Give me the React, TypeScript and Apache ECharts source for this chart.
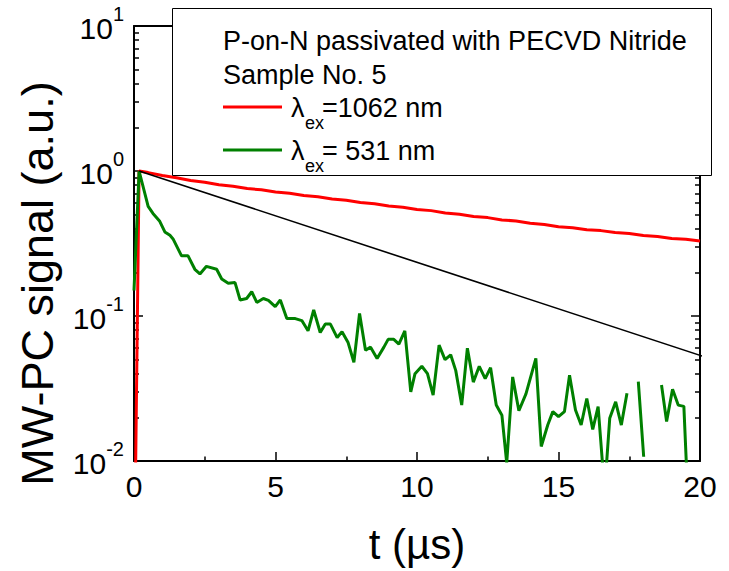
import React, { useEffect, useRef } from 'react';
import * as echarts from 'echarts';

const FONT = '"Liberation Sans", Arial, Helvetica, sans-serif';

// λex = 1062 nm trace (time in µs, normalized MW-PC signal)
const redTimes = [0, 0.18, 0.5, 1.0, 1.5, 2.0, 2.5, 3.0, 3.5, 4.0, 4.5, 5.0, 5.5, 6.0, 6.5, 7.0, 7.5, 8.0, 8.5, 9.0, 9.5, 10.0, 10.5, 11.0, 11.5, 12.0, 12.5, 13.0, 13.5, 14.0, 14.5, 15.0, 15.5, 16.0, 16.5, 17.0, 17.5, 18.0, 18.5, 19.0, 19.5, 20.0];
const redValues = [0.001, 1.0, 0.975, 0.93, 0.899, 0.86, 0.836, 0.805, 0.786, 0.757, 0.742, 0.717, 0.702, 0.678, 0.664, 0.641, 0.629, 0.607, 0.595, 0.574, 0.563, 0.543, 0.533, 0.514, 0.504, 0.486, 0.477, 0.46, 0.452, 0.436, 0.428, 0.412, 0.406, 0.393, 0.388, 0.376, 0.371, 0.359, 0.354, 0.342, 0.338, 0.329];

// λex = 531 nm trace (null = no valid sample)
const greenTimes = [0, 0.18, 0.5, 0.67, 0.91, 1.09, 1.27, 1.38, 1.68, 1.91, 2.15, 2.33, 2.56, 2.92, 3.1, 3.33, 3.57, 3.75, 3.98, 4.16, 4.34, 4.57, 4.75, 4.99, 5.17, 5.4, 5.7, 5.93, 6.15, 6.35, 6.58, 6.76, 6.94, 7.18, 7.35, 7.56, 7.77, 7.97, 8.18, 8.36, 8.59, 8.83, 8.98, 9.18, 9.36, 9.57, 9.78, 9.93, 10.17, 10.37, 10.57, 10.78, 10.99, 11.19, 11.37, 11.58, 11.78, 11.99, 12.2, 12.41, 12.6, 12.8, 13.0, 13.17, 13.38, 13.6, 13.85, 14.2, 14.39, 14.62, 14.8, 15.0, 15.21, 15.39, 15.6, 15.8, 16.0, 16.21, 16.4, 16.63, 16.81, 17.02, 17.22, 17.42, 17.62, 17.82, 18.01, 18.2, 18.4, 18.64, 18.82, 19.03, 19.23, 19.43, 19.63, 19.82];
const greenValues = [0.15, 1.0, 0.57, 0.51, 0.45, 0.38, 0.36, 0.34, 0.26, 0.26, 0.21, 0.195, 0.22, 0.21, 0.18, 0.168, 0.17, 0.129, 0.132, 0.147, 0.124, 0.132, 0.128, 0.116, 0.129, 0.096, 0.096, 0.093, 0.079, 0.11, 0.077, 0.088, 0.088, 0.071, 0.078, 0.066, 0.048, 0.104, 0.058, 0.061, 0.051, 0.061, 0.069, 0.069, 0.064, 0.079, 0.03, 0.04, 0.045, 0.04, 0.0285, 0.063, 0.05, 0.054, 0.042, 0.0243, 0.06, 0.035, 0.045, 0.037, 0.044, 0.0243, 0.0207, 0.0097, 0.038, 0.0222, 0.029, 0.051, 0.0126, 0.0177, 0.0219, 0.0202, 0.0219, 0.039, 0.0225, 0.0177, 0.027, 0.0165, 0.0237, 0.0062, 0.0197, 0.0256, 0.0177, 0.0293, null, 0.0353, 0.0107, null, null, 0.0334, 0.0187, 0.0312, 0.0243, 0.0238, 0.003, null];

// single-exponential guide line
const fitTimes = [0.18, 20.6];
const fitValues = [1.0, 0.049];

const xMin = 0;
const xMax = 20;
const xInterval = 5;
const yMajorTicks = [0.01, 0.1, 1, 10];
const yMinorTicks = [0.02, 0.03, 0.04, 0.05, 0.06, 0.07, 0.08, 0.09, 0.2, 0.3, 0.4, 0.5, 0.6, 0.7, 0.8, 0.9, 2, 3, 4, 5, 6, 7, 8, 9];

const legendTitle = ['P-on-N passivated with PECVD Nitride', 'Sample No. 5'];
const seriesNames = ['λex=1062 nm', 'λex= 531 nm'];
const legendSuffix = ['=1062 nm', '= 531 nm'];
const seriesColors = ['#ff0000', '#008000'];

const xTitle = 't (µs)';
const yTitle = 'MW-PC signal (a.u.)';

function pairs(xs: number[], ys: (number | null)[]) {
  return xs.map((x, i) => [x, ys[i]]);
}

function logAxis(position: 'left' | 'right', ticks: number[], tickLen: number, showLine: boolean, showLabel: boolean) {
  return {
    type: 'log',
    logBase: 10,
    min: 0.01,
    max: 10,
    position,
    axisLine: { show: showLine, onZero: false, lineStyle: { color: '#000', width: 2 } },
    axisTick: { show: true, inside: true, length: tickLen, customValues: ticks, lineStyle: { color: '#000', width: 1.5 } },
    axisLabel: showLabel
      ? {
          show: true,
          customValues: ticks,
          margin: 10,
          formatter: (v: number) => `{b|10}{s|${Math.round(Math.log10(v))}}`,
          rich: {
            b: { fontSize: 30, fontFamily: FONT, color: '#000', lineHeight: 30, padding: [5, 0, 0, 0] },
            s: { fontSize: 20, fontFamily: FONT, color: '#000', lineHeight: 20, padding: [0, 0, 24, 0] },
          },
        }
      : { show: false },
    splitLine: { show: false },
  };
}

export default function App() {
  const ref = useRef<HTMLDivElement>(null);

  useEffect(() => {
    if (!ref.current) return;
    const chart = echarts.init(ref.current, undefined, { renderer: 'svg' });

    const legendLineY = [107, 150];
    const legendGraphics: any[] = [
      {
        type: 'rect',
        z: 100,
        shape: { x: 172.5, y: 8.5, width: 539, height: 167 },
        style: { fill: '#fff', stroke: '#000', lineWidth: 1 },
      },
      {
        type: 'text', z: 101, x: 223, y: 41,
        style: { text: legendTitle[0], fill: '#000', fontSize: 27, fontFamily: FONT, verticalAlign: 'middle', align: 'left' },
      },
      {
        type: 'text', z: 101, x: 223, y: 75,
        style: { text: legendTitle[1], fill: '#000', fontSize: 27, fontFamily: FONT, verticalAlign: 'middle', align: 'left' },
      },
    ];
    legendLineY.forEach((ly, i) => {
      legendGraphics.push(
        { type: 'line', z: 101, shape: { x1: 223, y1: ly, x2: 282, y2: ly }, style: { stroke: seriesColors[i], lineWidth: 3 } },
        { type: 'text', z: 101, x: 291, y: ly + 1, style: { text: 'λ', fill: '#000', fontSize: 27, fontFamily: FONT, verticalAlign: 'middle' } },
        { type: 'text', z: 101, x: 305, y: ly + 16, style: { text: 'ex', fill: '#000', fontSize: 18, fontFamily: FONT, verticalAlign: 'middle' } },
        { type: 'text', z: 101, x: 322, y: ly + 1, style: { text: legendSuffix[i], fill: '#000', fontSize: 27, fontFamily: FONT, verticalAlign: 'middle' } },
      );
    });

    chart.setOption({
      animation: false,
      backgroundColor: '#fff',
      textStyle: { fontFamily: FONT },
      grid: { left: 134, top: 26, width: 566, height: 435, containLabel: false },
      xAxis: [
        {
          type: 'value',
          min: xMin,
          max: xMax,
          interval: xInterval,
          position: 'bottom',
          name: xTitle,
          nameLocation: 'middle',
          nameGap: 62,
          nameTextStyle: { fontSize: 42, fontFamily: FONT, color: '#000' },
          axisLine: { show: true, onZero: false, lineStyle: { color: '#000', width: 2 } },
          axisTick: { show: true, inside: true, length: 9, lineStyle: { color: '#000', width: 1.5 } },
          minorTick: { show: true, splitNumber: 2, length: 4.5, lineStyle: { color: '#000', width: 1.5 } },
          axisLabel: { fontSize: 30, fontFamily: FONT, color: '#000', margin: 10 },
          splitLine: { show: false },
        },
        {
          type: 'value',
          min: xMin,
          max: xMax,
          interval: xInterval,
          position: 'top',
          axisLine: { show: true, onZero: false, lineStyle: { color: '#000', width: 2 } },
          axisTick: { show: true, inside: true, length: 9, lineStyle: { color: '#000', width: 1.5 } },
          minorTick: { show: true, splitNumber: 2, length: 4.5, lineStyle: { color: '#000', width: 1.5 } },
          axisLabel: { show: false },
          splitLine: { show: false },
        },
      ],
      yAxis: [
        {
          ...logAxis('left', yMajorTicks, 9, true, true),
          name: yTitle,
          nameLocation: 'middle',
          nameGap: 74,
          nameTextStyle: { fontSize: 45, fontFamily: FONT, color: '#000', padding: [0, 80, 0, 0] },
        },
        logAxis('left', yMinorTicks, 5, false, false),
        logAxis('right', yMajorTicks, 9, true, false),
        logAxis('right', yMinorTicks, 5, false, false),
      ],
      series: [
        {
          name: seriesNames[0],
          type: 'line',
          xAxisIndex: 0,
          yAxisIndex: 0,
          data: pairs(redTimes, redValues),
          showSymbol: false,
          symbol: 'none',
          lineStyle: { color: seriesColors[0], width: 3 },
          itemStyle: { color: seriesColors[0] },
          connectNulls: false,
          clip: true,
        },
        {
          name: seriesNames[1],
          type: 'line',
          xAxisIndex: 0,
          yAxisIndex: 0,
          data: pairs(greenTimes, greenValues),
          showSymbol: false,
          symbol: 'none',
          lineStyle: { color: seriesColors[1], width: 3 },
          itemStyle: { color: seriesColors[1] },
          connectNulls: false,
          clip: true,
        },
        {
          name: 'fit',
          type: 'line',
          xAxisIndex: 0,
          yAxisIndex: 0,
          data: pairs(fitTimes, fitValues),
          showSymbol: false,
          symbol: 'none',
          lineStyle: { color: '#000', width: 1.6 },
          clip: false,
        },
      ],
      graphic: legendGraphics,
    });

    return () => chart.dispose();
  }, []);

  return <div ref={ref} style={{ position: 'fixed', left: 0, top: 0, width: 729, height: 571, background: '#fff' }} />;
}
